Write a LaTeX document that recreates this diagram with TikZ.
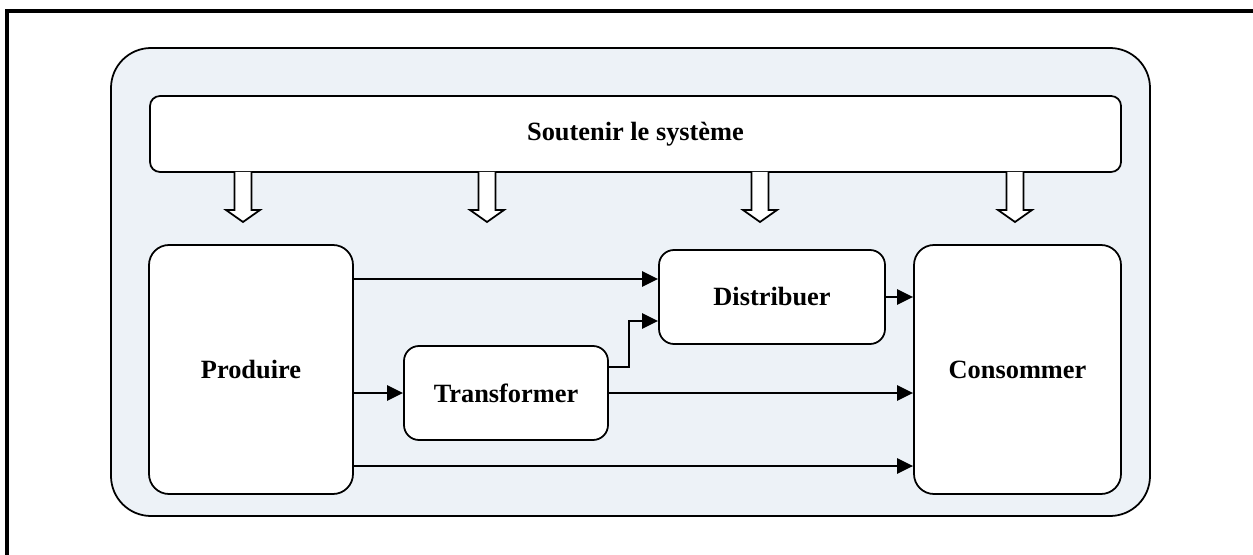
\documentclass[tikz,border=0pt]{standalone}
\usepackage{fontspec}
\setmainfont{Liberation Serif}
\usepackage{tikz}
\usetikzlibrary{arrows.meta, positioning, calc}
\definecolor{bgPale}{HTML}{EDF2F7}

\begin{document}
\begin{tikzpicture}[
    box/.style={draw, fill=white, line width=1pt, rounded corners=0.4cm,
      font=\bfseries\fontsize{15}{18}\selectfont, align=center, inner sep=0pt},
    flow/.style={-{Triangle[length=0.32cm, width=0.3cm]}, line width=1.4pt}
  ]
  \useasboundingbox (0,0) rectangle (25.06,11.08);

  % Page frame
  \draw[line width=1.8pt] (0.14,-0.2) -- (0.14,10.86) -- (25.4,10.86);

  % System
  \draw[fill=bgPale, line width=1pt, rounded corners=0.8cm] (2.22,0.76) rectangle (23.0,10.12);
  \node[box, rounded corners=0.2cm, minimum width=19.42cm, minimum height=1.52cm] (bar) at (12.71,8.40) {Soutenir le syst\`eme};

  % Support arrows
  \foreach \x in {4.86, 9.74, 15.2, 20.3} {
    \draw[fill=white, line width=1pt, line join=miter]
      (\x-0.17,7.64) -- (\x-0.17,6.88) -- (\x-0.34,6.88) -- (\x,6.64)
      -- (\x+0.34,6.88) -- (\x+0.17,6.88) -- (\x+0.17,7.64);
  }

  % Activities
  \node[box, minimum width=4.08cm, minimum height=4.98cm] (prod) at (5.02,3.69) {Produire};
  \node[box, minimum width=4.14cm, minimum height=4.98cm] (cons) at (20.35,3.69) {Consommer};
  \node[box, rounded corners=0.3cm, minimum width=4.52cm, minimum height=1.88cm] (dist) at (15.44,5.14) {Distribuer};
  \node[box, rounded corners=0.3cm, minimum width=4.08cm, minimum height=1.88cm] (trans) at (10.12,3.22) {Transformer};

  % Flows
  \draw[flow] (prod.east |- 0,5.5) -- (dist.west |- 0,5.5);
  \draw[flow] (prod.east |- trans.west) -- (trans.west);
  \draw[flow] (prod.east |- 0,1.76) -- (cons.west |- 0,1.76);
  \draw[flow] (trans.east) -- (cons.west |- trans.east);
  \draw[flow] (trans.east |- 0,3.74) -- ++(0.4,0) |- (dist.west |- 0,4.66);
  \draw[flow] (dist.east) -- (cons.west |- dist.east);
\end{tikzpicture}
\end{document}
